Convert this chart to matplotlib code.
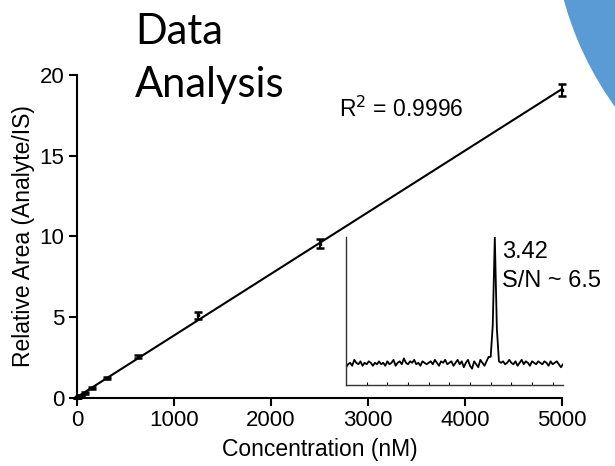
import numpy as np
import matplotlib
matplotlib.use('Agg')
from matplotlib import pyplot as plt
from matplotlib.patches import Wedge

plt.rcParams['font.family'] = ['Liberation Sans', 'DejaVu Sans']

# calibration data
conc = [0, 9.8, 19.5, 39, 78, 156, 312.5, 625, 1250, 2500, 5000]
ratio = [0.0, 0.04, 0.08, 0.15, 0.31, 0.62, 1.24, 2.55, 5.12, 9.55, 19.07]
ratio_err = [0.02, 0.02, 0.02, 0.03, 0.04, 0.05, 0.06, 0.1, 0.2, 0.28, 0.38]
x_ticks = [0, 1000, 2000, 3000, 4000, 5000]
y_ticks = [0, 5, 10, 15, 20]

# inset chromatogram (time in min, normalised signal)
trace_t0 = 2.70
trace_step = 0.01
trace = [0.12, 0.14, 0.15, 0.13, 0.17, 0.15, 0.14, 0.16, 0.13, 0.15,
         0.14, 0.16, 0.15, 0.13, 0.15, 0.14, 0.16, 0.14, 0.15, 0.13,
         0.16, 0.14, 0.15, 0.17, 0.13, 0.15, 0.16, 0.14, 0.18, 0.15,
         0.14, 0.16, 0.15, 0.17, 0.14, 0.15, 0.13, 0.16, 0.15, 0.14,
         0.15, 0.16, 0.14, 0.17, 0.15, 0.13, 0.16, 0.15, 0.17, 0.14,
         0.15, 0.16, 0.13, 0.15, 0.17, 0.14, 0.16, 0.12, 0.15, 0.17,
         0.13, 0.11, 0.16, 0.14, 0.12, 0.17, 0.15, 0.13, 0.16, 0.19,
         0.19, 0.40, 1.00, 0.38, 0.16,
         0.15, 0.16, 0.14, 0.15, 0.17, 0.15, 0.14, 0.16, 0.13, 0.15,
         0.17, 0.14, 0.16, 0.15, 0.13, 0.16, 0.15, 0.14, 0.16, 0.15,
         0.14, 0.16, 0.15, 0.13, 0.16, 0.14, 0.15, 0.16, 0.14, 0.12, 0.14]
inset_ticks = [2.8, 2.9, 3.0, 3.1, 3.2, 3.3, 3.4, 3.5, 3.6, 3.7]

fig = plt.figure(figsize=(6.15, 4.66), dpi=100)

# decoration layer (pixel coords)
bg = fig.add_axes([0, 0, 1, 1], zorder=0)
bg.set_xlim(0, 615)
bg.set_ylim(466, 0)
bg.axis('off')
bg.add_patch(Wedge((885, -88), 333, 0, 360, width=160, color='#5B9BD5', lw=0))
bg.text(135, 44, 'Data', fontsize=30, family=['Lato', 'DejaVu Sans'], va='baseline')
bg.text(135, 97, 'Analysis', fontsize=30, family=['Lato', 'DejaVu Sans'], va='baseline')

# main calibration plot
ax = fig.add_axes([77/615, 68/466, 485/615, 323/466], zorder=1)
ax.patch.set_alpha(0)
slope, icpt = np.polyfit(conc, ratio, 1)
xs = np.array([0, 5000])
ax.plot(xs, slope*xs + icpt, color='black', lw=1.5, clip_on=False)
ax.errorbar(conc, ratio, yerr=ratio_err, fmt='s', color='black', ms=2,
            elinewidth=1.5, capsize=3, capthick=1.8, clip_on=False)
ax.set_xlim(0, 5000)
ax.set_ylim(0, 20)
ax.set_xticks(x_ticks)
ax.set_yticks(y_ticks)
for s in ['top', 'right']:
    ax.spines[s].set_visible(False)
for s in ['left', 'bottom']:
    ax.spines[s].set_linewidth(1.5)
ax.tick_params(direction='out', length=6, width=1.5, labelsize=16, pad=3)
ax.set_xlabel('Concentration (nM)', fontsize=16.5, labelpad=5)
ax.set_ylabel('Relative Area (Analyte/IS)', fontsize=16.5, labelpad=3)
ax.text(0.54, 0.87, 'R$^2$ = 0.9996', transform=ax.transAxes, fontsize=16.5)

# inset chromatogram
ins = fig.add_axes([346/615, 81/466, 217/615, 148/466], zorder=2)
ins.patch.set_alpha(0)
t = trace_t0 + trace_step*np.arange(len(trace))
ins.plot(t, trace, color='black', lw=1.3)
ins.set_xlim(2.7, 3.75)
ins.set_ylim(0, 1.0)
for s in ['top', 'right']:
    ins.spines[s].set_visible(False)
for s in ['left', 'bottom']:
    ins.spines[s].set_linewidth(1.0)
    ins.spines[s].set_color('#333333')
ins.set_yticks([])
ins.set_xticks(inset_ticks)
ins.tick_params(axis='x', direction='in', length=2.5, width=0.8, labelbottom=False)
ins.text(3.455, 0.86, '3.42', fontsize=17)
ins.text(3.455, 0.66, 'S/N ~ 6.5', fontsize=17)

fig.savefig('out.png', dpi=100)
